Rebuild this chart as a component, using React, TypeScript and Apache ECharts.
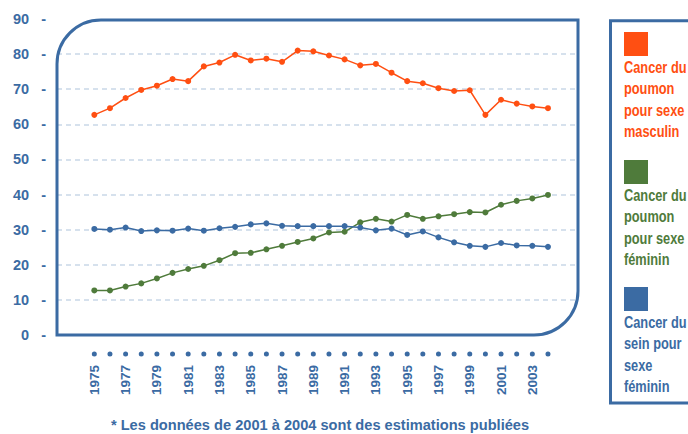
import React, { useEffect, useRef } from "react";
import * as echarts from "echarts";

const years = [
  "1975", "1976", "1977", "1978", "1979", "1980", "1981", "1982", "1983", "1984",
  "1985", "1986", "1987", "1988", "1989", "1990", "1991", "1992", "1993", "1994",
  "1995", "1996", "1997", "1998", "1999", "2000", "2001", "2002", "2003", "2004",
];
const poumonMasculin = [
  62.7, 64.6, 67.5, 69.8, 71.0, 72.9, 72.3, 76.5, 77.6, 79.8,
  78.2, 78.7, 77.8, 81.0, 80.8, 79.6, 78.5, 76.8, 77.2, 74.7,
  72.3, 71.7, 70.3, 69.5, 69.7, 62.7, 67.0, 65.9, 65.1, 64.6,
];
const poumonFeminin = [
  12.7, 12.7, 13.8, 14.7, 16.1, 17.7, 18.8, 19.7, 21.3, 23.3,
  23.4, 24.4, 25.4, 26.5, 27.5, 29.2, 29.4, 32.1, 33.1, 32.3,
  34.2, 33.1, 33.8, 34.4, 35.0, 34.9, 37.1, 38.2, 38.9, 39.9,
];
const seinFeminin = [
  30.2, 30.0, 30.6, 29.6, 29.8, 29.7, 30.3, 29.7, 30.4, 30.8,
  31.5, 31.8, 31.1, 31.0, 31.0, 31.0, 31.0, 30.6, 29.8, 30.3,
  28.5, 29.5, 27.8, 26.4, 25.4, 25.1, 26.2, 25.5, 25.4, 25.1,
];
const seriesNames = [
  "Cancer du\npoumon\npour sexe\nmasculin",
  "Cancer du\npoumon\npour sexe\nféminin",
  "Cancer du\nsein pour\nsexe\nféminin",
];
const footnote = "* Les données de 2001 à 2004 sont des estimations publiées";

const ORANGE = "#ff4f12";
const GREEN = "#4f7b3b";
const BLUE = "#3b6ba3";
const GRID = "#c9d7e7";
const SANS = "'Liberation Sans', Arial, sans-serif";

export default function App() {
  const ref = useRef<HTMLDivElement>(null);
  useEffect(() => {
    if (!ref.current) return;
    const chart = echarts.init(ref.current, undefined, { renderer: "svg" });
    const colors = [ORANGE, GREEN, BLUE];
    const data = [poumonMasculin, poumonFeminin, seinFeminin];
    const legendTops = [32, 160, 287];
    const legend: any[] = [];
    seriesNames.forEach((n, i) => {
      legend.push({
        type: "rect",
        shape: { x: 624, y: legendTops[i], width: 24, height: 24 },
        style: { fill: colors[i] },
      });
      legend.push({
        type: "text",
        x: 624,
        y: legendTops[i] + 24.5,
        scaleX: 0.8,
        style: {
          text: n,
          fill: colors[i],
          font: `bold 16px ${SANS}`,
          lineHeight: 21.5,
          textAlign: "left",
          textVerticalAlign: "top",
        },
      });
    });
    const splitColors = [
      "transparent", GRID, GRID, GRID, GRID, GRID, GRID, GRID, GRID, "transparent",
    ];
    chart.setOption({
      animation: false,
      grid: [
        { left: 57, right: 110, top: 19, bottom: 99 },
        { left: 86.5, right: 132.2, top: 19, bottom: 99 },
      ],
      xAxis: [
        { gridIndex: 0, type: "value", min: 0, max: 1, show: false },
        {
          gridIndex: 1,
          type: "category",
          data: years,
          boundaryGap: true,
          position: "bottom",
          axisLine: { show: false },
          axisTick: { show: false },
          splitLine: { show: false },
          axisLabel: {
            interval: 0,
            rotate: 90,
            margin: 30,
            formatter: (v: string, i: number) => (i % 2 === 0 ? v : ""),
            color: BLUE,
            fontWeight: "bold",
            fontSize: 13.5,
            fontFamily: SANS,
          },
        },
        {
          gridIndex: 1,
          type: "category",
          data: years,
          boundaryGap: true,
          position: "bottom",
          axisLine: { show: false },
          axisTick: { show: false },
          splitLine: { show: false },
          axisLabel: {
            interval: 0,
            margin: 16.5,
            formatter: () => "{d|}",
            rich: {
              d: { width: 5, height: 5, borderRadius: 2.5, backgroundColor: BLUE },
            },
          },
        },
      ],
      yAxis: [
        {
          gridIndex: 0,
          type: "value",
          min: 0,
          max: 90,
          interval: 10,
          axisLine: { show: false },
          axisTick: { show: false },
          axisLabel: {
            margin: 11,
            formatter: (v: number) => `${v}   -`,
            color: BLUE,
            fontWeight: "bold",
            fontSize: 14.5,
            fontFamily: SANS,
          },
          splitLine: {
            show: true,
            lineStyle: { type: [5, 4], color: splitColors, width: 1.5 },
          },
        },
        { gridIndex: 1, type: "value", min: 0, max: 90, show: false, splitLine: { show: false } },
      ],
      series: data.map((d, i) => ({
        type: "line",
        name: seriesNames[i],
        xAxisIndex: 1,
        yAxisIndex: 1,
        data: d,
        symbol: "circle",
        symbolSize: 6,
        color: colors[i],
        lineStyle: { width: 1.5, color: colors[i] },
        itemStyle: { color: colors[i] },
        z: 5,
      })),
      graphic: [
        {
          type: "rect",
          shape: { x: 57, y: 20, width: 521, height: 315, r: [44, 0, 44, 0] },
          style: { fill: "none", stroke: BLUE, lineWidth: 3 },
          z: 10,
        },
        {
          type: "rect",
          shape: { x: 610.5, y: 20.7, width: 120, height: 382.3 },
          style: { fill: "none", stroke: BLUE, lineWidth: 3 },
        },
        ...legend,
        {
          type: "text",
          x: 320,
          y: 432,
          scaleX: 0.975,
          style: {
            text: footnote,
            fill: BLUE,
            font: `bold 15px ${SANS}`,
            textAlign: "center",
            textVerticalAlign: "bottom",
          },
        },
      ],
    });
    return () => chart.dispose();
  }, []);
  return (
    <div
      ref={ref}
      style={{ position: "fixed", left: 0, top: 0, width: 688, height: 434, background: "#fff" }}
    />
  );
}
